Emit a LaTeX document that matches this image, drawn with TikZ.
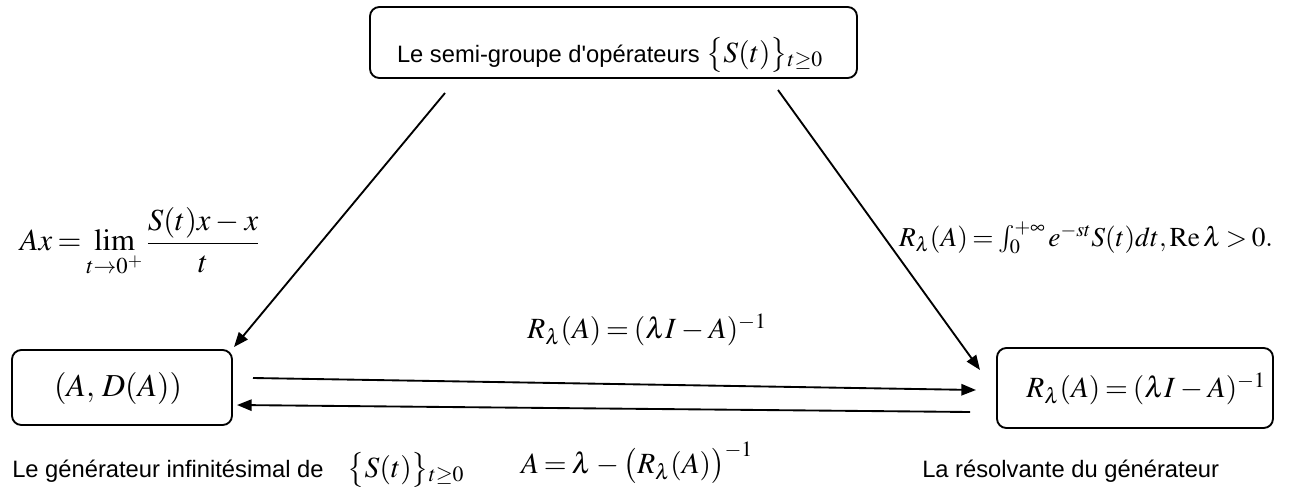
\documentclass[tikz,border=0pt]{standalone}
\usepackage[no-math]{fontspec}
\usepackage{mathptmx}
\newfontfamily\arial{Liberation Sans}
\usetikzlibrary{arrows.meta}
\thickmuskip=3mu plus 2mu
\medmuskip=3mu plus 1mu
\begin{document}
\begin{tikzpicture}[x=0.75pt,y=-0.75pt,
  box/.style={draw, line width=1.4pt, rounded corners=7pt, inner sep=0pt},
  arr/.style={line width=1.4pt, -{Triangle[length=11pt,width=8.5pt]}},
  sans/.style={font=\arial\fontsize{17.8}{21}\selectfont, inner sep=0pt},
  mth/.style={font=\fontsize{22}{27}\selectfont, inner sep=0pt}]
\useasboundingbox (0,0) rectangle (1293,486);
% boxes
\node[box, minimum width=365.25pt, minimum height=53.25pt] (top) at (613.5,42.5) {};
\node[box, minimum width=165pt, minimum height=56.25pt] (L) at (122,387.5) {};
\node[box, minimum width=207pt, minimum height=60pt] (R) at (1135,388) {};
% box texts
\node[sans, anchor=base] (toptxt) at (610,62) {Le semi-groupe d\textquotesingle op\'erateurs\hspace{5pt}{\fontsize{22}{27}\selectfont$\bigl\{S(t)\bigr\}{}_{t\geq0}$}};
\node[mth, font=\fontsize{24}{29}\selectfont] (Ltxt) at (118,388) {$(A,\,D(A))$};
\node[mth] (Rtxt) at (1146,389) {$R_\lambda(A)=(\lambda I-A)^{-1}$};
% connectors
\coordinate (a1s) at (445,93);  \coordinate (a1e) at (234,347);
\coordinate (a2s) at (778,90);  \coordinate (a2e) at (980,370);
\coordinate (h1s) at (253,378); \coordinate (h1e) at (976,390);
\coordinate (h2s) at (970,412); \coordinate (h2e) at (237,405);
\draw[arr] (a1s) -- (a1e);
\draw[arr] (a2s) -- (a2e);
\draw[arr] (h1s) -- (h1e);
\draw[arr] (h2s) -- (h2e);
% labels
\node[mth, font=\fontsize{23}{28}\selectfont] (limf) at (140,242) {$\displaystyle Ax=\lim_{t\to0^+}\frac{S(t)x-x}{t}$};
\node[mth, font=\fontsize{20.5}{25}\selectfont] (intf) at (1086,238) {$R_\lambda(A)=\int_0^{+\infty}e^{-st}S(t)dt,\mathrm{Re}\,\lambda>0.$};
\node[mth] (mid1) at (647,330) {$R_\lambda(A)=(\lambda I-A)^{-1}$};
\node[mth] (mid2) at (637,463) {$A=\lambda-\bigl(R_\lambda(A)\bigr)^{-1}$};
\node[sans, anchor=base west] (gen) at (12,477) {Le g\'en\'erateur infinit\'esimal de\hspace{18pt}{\fontsize{22}{27}\selectfont$\bigl\{S(t)\bigr\}{}_{t\geq0}$}};
\node[sans, anchor=base west] (res) at (922,477) {La r\'esolvante du g\'en\'erateur};
\end{tikzpicture}
\end{document}
